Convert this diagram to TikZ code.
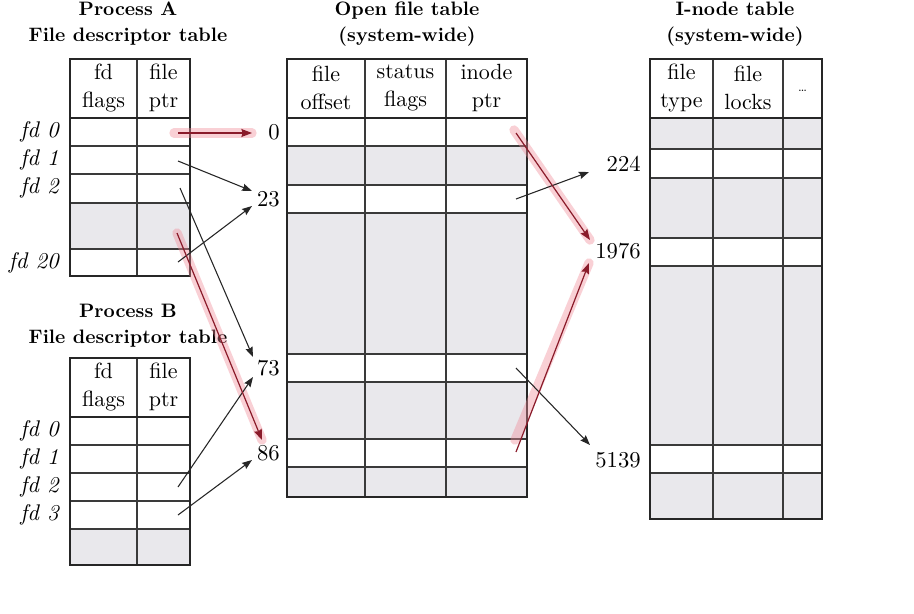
\documentclass[tikz,border=0pt]{standalone}
\usepackage{fontspec}
\setmainfont{lmroman10-regular.otf}[BoldFont=lmroman10-bold.otf, ItalicFont=lmroman10-italic.otf, BoldItalicFont=lmroman10-bolditalic.otf]
\usetikzlibrary{arrows.meta}
\definecolor{cellgray}{HTML}{E9E8EC}
\definecolor{rulegray}{HTML}{3A3A3A}
\definecolor{arrred}{HTML}{8A1B2A}
\definecolor{glowpink}{HTML}{F08A98}
\tikzset{
  outer/.style={line width=1.6pt, draw=black!85},
  inner/.style={line width=0.8pt, draw=rulegray},
  hdr/.style={align=center, font=\fontsize{16.5}{20.5}\selectfont, inner sep=0pt},
  ttl/.style={align=center, font=\fontsize{14.6}{19.5}\selectfont\bfseries, inner sep=0pt},
  fdlab/.style={anchor=east, inner sep=0pt, font=\fontsize{17}{20}\selectfont\itshape},
  numlab/.style={anchor=east, inner sep=0pt, font=\fontsize{17}{20}\selectfont},
  arr/.style={line width=0.8pt, draw=black!85, -{Stealth[length=7.5pt,width=5.5pt,inset=1pt]}},
  redarr/.style={line width=0.9pt, draw=arrred, -{Stealth[length=8pt,width=6pt,inset=1pt]}},
  glow/.style={line width=7pt, draw=glowpink, opacity=0.4, line cap=round},
}
\begin{document}
\begin{tikzpicture}[x=0.75pt,y=-0.75pt]
\useasboundingbox (0,0) rectangle (914,614);
\fill[white] (0,0) rectangle (914,614);

% ---------- Process A table ----------
\node[ttl] (tA) at (128,24) {Process A\\File descriptor table};
\fill[cellgray] (70,203) rectangle (190,249);
\draw[inner] (137,59) -- (137,276);
\foreach \y in {146,174,203,249} \draw[inner] (70,\y) -- (190,\y);
\draw[outer] (70,118) -- (190,118);
\draw[outer] (70,59) rectangle (190,276);
\node[hdr] (hA1) at (103.5,88) {fd\\flags};
\node[hdr] (hA2) at (163.5,88) {file\\ptr};
\node[fdlab] (A0) at (59,132) {fd 0};
\node[fdlab] (A1) at (59,160) {fd 1};
\node[fdlab] (A2) at (59,188) {fd 2};
\node[fdlab] (A20) at (59,263) {fd 20};

% ---------- Process B table ----------
\node[ttl] (tB) at (128,326) {Process B\\File descriptor table};
\fill[cellgray] (70,529) rectangle (190,565);
\draw[inner] (137,358) -- (137,565);
\foreach \y in {445,473,501,529} \draw[inner] (70,\y) -- (190,\y);
\draw[outer] (70,417) -- (190,417);
\draw[outer] (70,358) rectangle (190,565);
\node[hdr] (hB1) at (103.5,387) {fd\\flags};
\node[hdr] (hB2) at (163.5,387) {file\\ptr};
\node[fdlab] (B0) at (59,431) {fd 0};
\node[fdlab] (B1) at (59,459) {fd 1};
\node[fdlab] (B2) at (59,487) {fd 2};
\node[fdlab] (B3) at (59,515) {fd 3};

% ---------- Open file table ----------
\node[ttl] (tO) at (407,24) {Open file table\\(system-wide)};
\fill[cellgray] (287,146) rectangle (527,185);
\fill[cellgray] (287,213) rectangle (527,354);
\fill[cellgray] (287,382) rectangle (527,439);
\fill[cellgray] (287,467) rectangle (527,497);
\draw[inner] (365,59) -- (365,497);
\draw[inner] (446,59) -- (446,497);
\foreach \y in {146,185,213,354,382,439,467} \draw[inner] (287,\y) -- (527,\y);
\draw[outer] (287,118) -- (527,118);
\draw[outer] (287,59) rectangle (527,497);
\node[hdr] (hO1) at (326,88) {file\\offset};
\node[hdr] (hO2) at (405.5,88) {status\\flags};
\node[hdr] (hO3) at (486.5,88) {inode\\ptr};
\node[numlab] (n0) at (280,132) {0};
\node[numlab] (n23) at (280,199) {23};
\node[numlab] (n73) at (280,368) {73};
\node[numlab] (n86) at (280,453) {86};

% ---------- I-node table ----------
\node[ttl] (tI) at (735,24) {I-node table\\(system-wide)};
\fill[cellgray] (650,118) rectangle (822,149);
\fill[cellgray] (650,178) rectangle (822,238);
\fill[cellgray] (650,266) rectangle (822,445);
\fill[cellgray] (650,473) rectangle (822,519);
\draw[inner] (713,59) -- (713,519);
\draw[inner] (783,59) -- (783,519);
\foreach \y in {149,178,238,266,445,473} \draw[inner] (650,\y) -- (822,\y);
\draw[outer] (650,118) -- (822,118);
\draw[outer] (650,59) rectangle (822,519);
\node[hdr] (hI1) at (681.5,88) {file\\type};
\node[hdr] (hI2) at (748,88) {file\\locks};
\node[inner sep=0pt, font=\fontsize{10}{10}\selectfont] (hI3) at (802.5,91) {\ldots};
\node[numlab] (n224) at (641,164) {224};
\node[numlab] (n1976) at (641,251) {1976};
\node[numlab] (n5139) at (641,460) {5139};

% ---------- connector end points ----------
\coordinate (sA0) at (178,133);
\coordinate (sA1) at (178,161);
\coordinate (sA2) at (180,188);
\coordinate (sAr) at (177,233);
\coordinate (sA20) at (178,262);
\coordinate (sB2) at (178,487);
\coordinate (sB3) at (178,515);
\coordinate (sO0) at (516,133);
\coordinate (sO23) at (516,199);
\coordinate (sO73) at (516,368);
\coordinate (sO86) at (516,452);
\coordinate (e0) at (252,133);
\coordinate (e23a) at (252,191);
\coordinate (e23b) at (252,206);
\coordinate (e73a) at (253,357);
\coordinate (e73b) at (253,377);
\coordinate (e86a) at (262,440);
\coordinate (e86b) at (252,460);
\coordinate (e224) at (589,172);
\coordinate (e1976a) at (590,240);
\coordinate (e1976b) at (589,263);
\coordinate (e5139) at (590,445);

% ---------- highlights ----------
\draw[glow] ([shift={(-4,0)}]sA0) -- (e0);
\draw[glow] (sAr) -- (e86a);
\draw[glow] ([shift={(-2,-3)}]sO0) -- (e1976a);
\draw[glow] ([shift={(-1,-12)}]sO86) -- (e1976b);

% ---------- connectors ----------
\draw[arr] (sA1) -- (e23a);
\draw[arr] (sA20) -- (e23b);
\draw[arr] (sA2) -- (e73a);
\draw[arr] (sB2) -- (e73b);
\draw[arr] (sB3) -- (e86b);
\draw[arr] (sO23) -- (e224);
\draw[arr] (sO73) -- (e5139);
\draw[redarr] (sA0) -- (e0);
\draw[redarr] (sAr) -- (e86a);
\draw[redarr] (sO0) -- (e1976a);
\draw[redarr] (sO86) -- (e1976b);
\end{tikzpicture}
\end{document}
